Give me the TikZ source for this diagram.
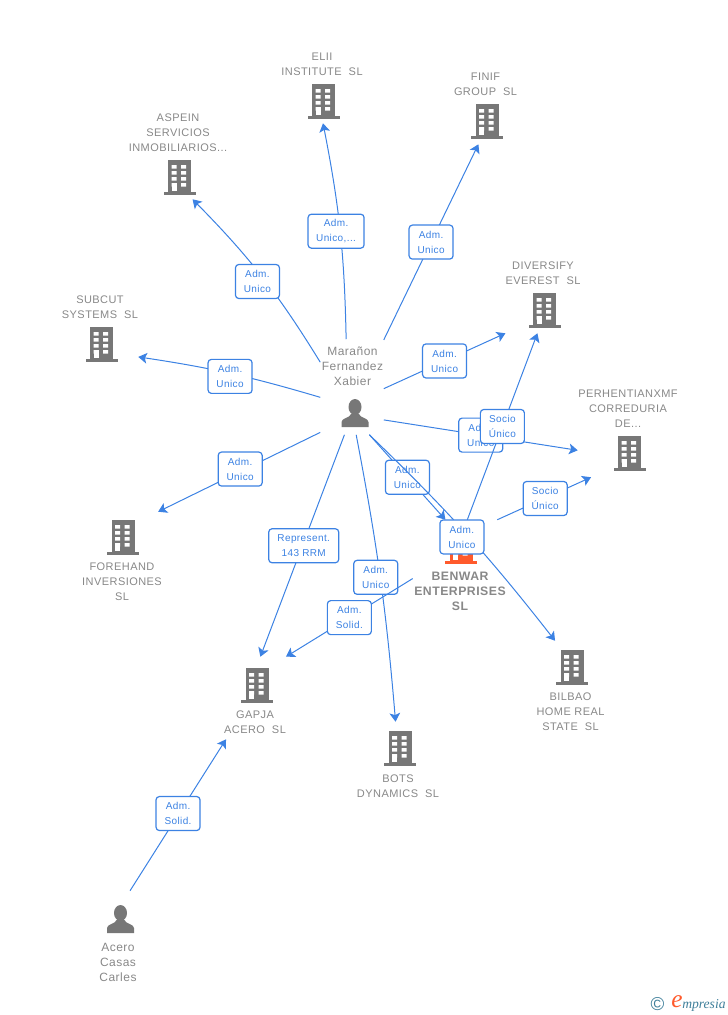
\documentclass[tikz,border=0pt]{standalone}
\usepackage{fontspec}
\setmainfont{Liberation Sans}[LetterSpace=4]
\newfontfamily\logofont{Liberation Serif}
\usetikzlibrary{calc,arrows.meta}
\definecolor{linkblue}{HTML}{3C82E3}
\definecolor{nodegray}{HTML}{777777}
\definecolor{textgray}{HTML}{888888}
\definecolor{mainorange}{HTML}{FF5A2C}
\definecolor{logoteal}{HTML}{3F7F9A}
\tikzset{
  >={Stealth[length=6.5pt,width=8pt,inset=1.5pt]},
  % invisible block of icon and label: connectors stop on its border
  area/.style 2 args={inner sep=0pt,minimum width=#1*0.75pt,minimum height=#2*0.75pt},
  firm/.style={align=center,inner sep=0pt,text=textgray,font=\fontsize{8.25}{11.25}\selectfont},
  mainfirm/.style={firm,font=\fontsize{9.2}{11.25}\selectfont\bfseries},
  person/.style={firm,font=\fontsize{9}{11.25}\selectfont},
  role/.style={draw=linkblue,line width=0.9pt,rounded corners=2.5pt,fill=white,align=center,
               inner sep=0pt,text=linkblue,minimum height=25.5pt,minimum width=33pt,
               font=\fontsize{7.5}{11.25}\selectfont},
  link/.style={->,draw=linkblue,line width=0.75pt},
  tower/.pic={
    \fill[pic actions] (-11.5,-17) rectangle (11.5,16);
    \fill[pic actions] (-16,15) rectangle (16,18);
    \foreach \wy in {-12,-6,0,6}
      \fill[white] (-8,\wy) rectangle (-3,\wy+3.5) (1.5,\wy) rectangle (6.5,\wy+3.5);
    \fill[white] (-8,6) rectangle (-3,14);
  },
  figure/.pic={
    \fill[nodegray] (0,-6) ellipse [x radius=6.5,y radius=8];
    \fill[nodegray] (-13.5,14) -- (-13.5,9) .. controls (-13.5,5) and (-5,5) .. (-4,1)
       -- (4,1) .. controls (5,5) and (13.5,5) .. (13.5,9) -- (13.5,14) -- cycle;
  }
}
\begin{document}
\begin{tikzpicture}[x=0.75pt,y=-0.75pt]
  \useasboundingbox (0,0) rectangle (728,1015);

  % The blocks
  \node[area={63}{95}] (mar) at (352,387) {};
  \node[area={46}{94}] (acero) at (120,938) {};
  \node[area={92}{94}] (benwar) at (459,567) {};
  \node[area={84}{76}] (elii) at (323,85) {};
  \node[area={66}{74}] (finif) at (487,107) {};
  \node[area={100}{88}] (aspein) at (179,155) {};
  \node[area={78}{74}] (diversify) at (544,296) {};
  \node[area={76}{70}] (subcut) at (100,327) {};
  \node[area={100}{94}] (perh) at (628,430) {};
  \node[area={78}{92}] (forehand) at (122,558) {};
  \node[area={66}{82}] (gapja) at (256,698) {};
  \node[area={84}{78}] (bots) at (399,761) {};
  \node[area={70}{92}] (bilbao) at (571,687) {};

  % The icons
  \pic at (355,413) {figure};
  \pic at (120.5,919) {figure};
  \pic[fill=mainorange] at (461,546) {tower};
  \pic[fill=nodegray] at (323.5,101) {tower};
  \pic[fill=nodegray] at (487,121) {tower};
  \pic[fill=nodegray] at (179.5,177) {tower};
  \pic[fill=nodegray] at (544.5,310) {tower};
  \pic[fill=nodegray] at (101.5,344) {tower};
  \pic[fill=nodegray] at (629.5,453) {tower};
  \pic[fill=nodegray] at (123,537) {tower};
  \pic[fill=nodegray] at (257,685) {tower};
  \pic[fill=nodegray] at (400,748) {tower};
  \pic[fill=nodegray] at (572,667) {tower};

  % The names
  \node[person] (marname) at (352.5,366) {Marañon\\Fernandez\\Xabier};
  \node[person] (aceroname) at (118,962) {Acero\\Casas\\Carles};
  \node[mainfirm] (benwarname) at (460,591) {BENWAR\\ENTERPRISES\\SL};
  \node[firm] (eliiname) at (322,64.5) {ELII\\INSTITUTE\ \ SL};
  \node[firm] (finifname) at (485.5,84.5) {FINIF\\GROUP\ \ SL};
  \node[firm] (aspeinname) at (178,133) {ASPEIN\\SERVICIOS\\INMOBILIARIOS...};
  \node[firm] (diversifyname) at (543,273.5) {DIVERSIFY\\EVEREST\ \ SL};
  \node[firm] (subcutname) at (100,307.5) {SUBCUT\\SYSTEMS\ \ SL};
  \node[firm] (perhname) at (628,409) {PERHENTIANXMF\\CORREDURIA\\DE...};
  \node[firm] (forehandname) at (122,582) {FOREHAND\\INVERSIONES\\SL};
  \node[firm] (gapjaname) at (255,722.5) {GAPJA\\ACERO\ \ SL};
  \node[firm] (botsname) at (398,786.5) {BOTS\\DYNAMICS\ \ SL};
  \node[firm] (bilbaoname) at (570.5,712) {BILBAO\\HOME REAL\\STATE\ \ SL};

  % Connect the blocks, each role sits in the middle of its connector
  \draw[link] (mar.97.3) to[bend right=5] node[role,minimum width=42pt,xshift=-3pt,yshift=-0.4pt] (r1) {Adm.\\Unico,...} (elii.-90);
  \draw[link] (mar.56.6) to node[role] (r2) {Adm.\\Unico} (finif.-103.7);
  \draw[link] (mar.142.5) to[bend right=6.5] node[role,xshift=-3.25pt,yshift=-3.75pt] (r3) {Adm.\\Unico} (aspein.-73.5);
  \draw[link] (mar.198) to[bend right=4] node[role,yshift=-2.25pt] (r4) {Adm.\\Unico} (subcut.-38);
  \draw[link] (mar.-3.7) to node[role] (r5) {Adm.\\Unico} (diversify.224);
  \draw[link] (mar.-46.7) to node[role] (r6) {Adm.\\Unico} (perh.202);
  \draw[link] (mar.235.7) to node[role,xshift=0.75pt,yshift=2.25pt] (r7) {Adm.\\Unico} (forehand.52);
  \draw[link] (mar.261.7) to node[role,minimum width=52.5pt,xshift=1pt] (r8) {Represent.\\143 RRM} (gapja.84.4);
  \draw[link] (mar.275) to[bend left=3] node[role,xshift=-3.4pt,yshift=0.25pt] (r9) {Adm.\\Unico} (bots.95.9);
  \draw[link] (mar.290.6) to node[role] (r10) {Adm.\\Unico} (benwar.106.6);
  \draw[link] (mar.290.6) to[bend left=4] node[role,xshift=-3.4pt,yshift=-2.25pt] (r11) {Adm.\\Unico} (bilbao.109.2);
  \draw[link] (benwar.80.3) to node[role] (r12) {Socio\\Único} (diversify.-100.7);
  \draw[link] (benwar.51) to node[role,xshift=0.75pt] (r13) {Socio\\Único} (perh.232.5);
  \draw[link] (benwar.194.6) to node[role] (r14) {Adm.\\Solid.} (gapja.54);
  \draw[link] (acero.78) to node[role,yshift=1.1pt] (r15) {Adm.\\Solid.} (gapja.234);

  % The mark in the corner
  \node[inner sep=0pt,text=logoteal,font=\fontsize{14}{14}\selectfont] (mark) at (657.5,1004) {©};
  \node[inner sep=0pt,text=mainorange,font=\logofont\itshape\fontsize{19}{19}\selectfont] (marke) at (677,1002) {e};
  \node[inner sep=0pt,anchor=base west,text=logoteal,font=\logofont\itshape\fontsize{10.2}{12}\selectfont] (markname) at (682,1008) {mpresia};
\end{tikzpicture}
\end{document}
